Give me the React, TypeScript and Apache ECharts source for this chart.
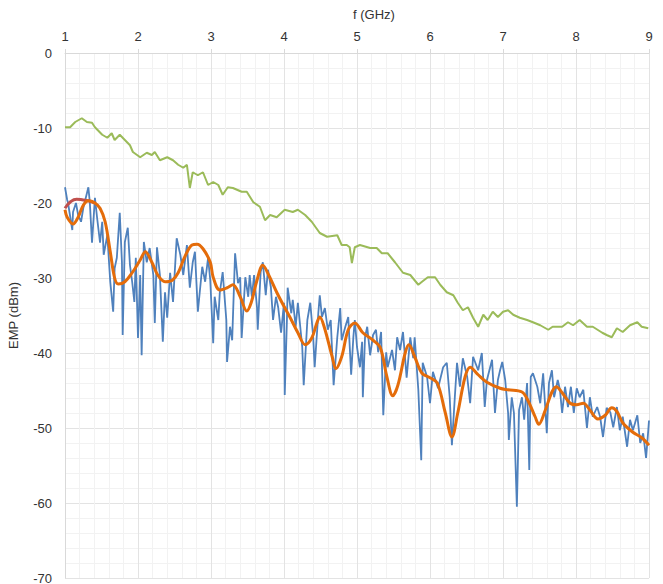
import React, { useEffect, useRef } from "react";
import * as echarts from "echarts";

// Frequency (GHz) / level (dBm) pairs
const greenF = [1.0,1.07,1.14,1.23,1.30,1.37,1.41,1.45,1.51,1.58,1.64,1.68,1.75,1.82,1.89,1.93,2.03,2.12,2.19,2.23,2.30,2.40,2.48,2.55,2.62,2.67,2.71,2.75,2.82,2.89,2.96,3.03,3.10,3.16,3.23,3.30,3.42,3.49,3.58,3.67,3.74,3.81,3.90,4.01,4.12,4.19,4.29,4.38,4.49,4.59,4.73,4.79,4.86,4.90,4.93,4.97,5.04,5.18,5.27,5.34,5.42,5.52,5.63,5.73,5.84,5.89,5.97,6.07,6.14,6.23,6.32,6.38,6.45,6.52,6.59,6.66,6.73,6.79,6.86,6.93,7.00,7.07,7.14,7.23,7.33,7.41,7.51,7.62,7.68,7.81,7.89,7.96,8.05,8.15,8.23,8.36,8.42,8.49,8.56,8.64,8.74,8.84,8.90,8.99];
const greenV = [-9.9,-9.9,-9.2,-8.7,-9.2,-9.3,-9.9,-10.3,-10.9,-11.3,-10.7,-11.6,-10.9,-11.6,-12.3,-13.2,-13.9,-13.3,-13.6,-13.2,-14.3,-13.9,-14.3,-14.9,-15.3,-14.9,-18.0,-15.9,-16.3,-15.9,-17.6,-17.2,-17.6,-18.9,-17.9,-18.0,-18.5,-18.5,-19.9,-20.5,-22.3,-21.6,-21.9,-20.9,-21.2,-20.9,-21.6,-22.5,-24.0,-24.5,-24.3,-25.6,-25.6,-25.9,-28.0,-25.9,-25.6,-26.0,-26.0,-26.7,-26.7,-27.9,-29.3,-29.6,-30.9,-30.5,-29.9,-29.9,-30.9,-31.9,-32.3,-33.3,-34.3,-33.9,-35.3,-36.5,-34.9,-35.6,-34.5,-35.2,-34.5,-34.3,-34.9,-35.3,-35.6,-35.9,-36.3,-36.9,-36.5,-36.5,-35.9,-36.3,-35.6,-36.5,-36.5,-37.3,-37.6,-37.9,-36.7,-37.2,-36.3,-35.9,-36.5,-36.7];

const blueF = [1.00,1.03,1.04,1.10,1.11,1.15,1.18,1.22,1.25,1.32,1.34,1.37,1.41,1.44,1.48,1.51,1.53,1.58,1.62,1.66,1.68,1.71,1.75,1.78,1.79,1.82,1.86,1.89,1.92,1.95,1.97,2.00,2.03,2.05,2.08,2.12,2.16,2.21,2.23,2.26,2.30,2.34,2.37,2.40,2.44,2.48,2.53,2.58,2.62,2.67,2.71,2.75,2.78,2.82,2.88,2.92,2.96,
  2.99,3.03,3.05,3.10,3.12,3.16,3.21,3.22,3.26,3.29,3.33,3.37,3.40,3.42,3.47,3.51,3.53,3.56,3.59,3.63,3.64,3.68,3.71,3.75,3.78,3.82,3.85,3.89,3.92,3.96,4.00,4.01,4.04,4.05,4.10,4.12,4.16,4.19,4.25,4.27,4.32,4.36,4.40,4.42,4.47,4.49,4.52,4.56,4.60,4.64,4.68,4.73,4.77,4.79,4.84,4.88,4.92,4.95,
  4.97,5.00,5.04,5.07,5.08,5.11,5.14,5.18,5.22,5.26,5.29,5.33,5.36,5.40,5.42,5.48,5.52,5.55,5.59,5.63,5.68,5.73,5.77,5.79,5.84,5.88,5.90,5.96,6.00,6.04,6.11,6.18,6.23,6.27,6.30,6.34,6.37,6.41,6.45,6.51,6.55,6.59,6.66,6.71,6.75,6.78,6.85,6.89,6.93,
  6.96,6.99,7.03,7.07,7.08,7.12,7.15,7.19,7.22,7.26,7.29,7.33,7.36,7.38,7.41,7.47,7.51,7.55,7.60,7.63,7.67,7.70,7.75,7.78,7.81,7.85,7.89,7.93,7.97,8.01,8.05,8.10,8.15,8.19,8.23,8.29,8.33,8.37,8.42,8.47,8.51,8.56,8.60,8.64,8.70,8.74,8.78,8.84,8.88,8.92,8.96,8.99,9.00];
const blueV = [-17.9,-19.6,-19.9,-23.6,-21.2,-20.0,-21.6,-22.5,-20.7,-17.9,-19.9,-25.3,-19.3,-22.0,-25.3,-22.5,-26.9,-24.3,-30.5,-34.5,-28.7,-27.3,-21.3,-27.9,-37.6,-25.2,-23.3,-28.3,-30.5,-33.2,-27.3,-38.0,-29.6,-40.3,-25.2,-27.9,-26.0,-29.6,-36.0,-25.9,-29.6,-38.5,-31.9,-35.3,-29.3,-33.2,-24.7,-26.9,-29.6,-25.6,-31.3,-27.9,-26.5,-34.5,-28.5,-30.5,-27.3,
  -30.3,-38.7,-32.5,-35.6,-32.0,-29.2,-35.6,-41.2,-36.5,-38.3,-26.7,-30.7,-29.9,-38.0,-29.9,-32.5,-29.6,-32.5,-29.6,-33.9,-36.9,-29.2,-27.9,-32.3,-28.9,-31.2,-35.6,-32.5,-33.9,-37.3,-33.3,-45.6,-35.6,-31.3,-34.7,-32.9,-36.5,-33.3,-39.2,-44.3,-35.6,-33.3,-37.9,-41.9,-34.7,-32.3,-35.2,-34.0,-36.9,-35.6,-44.3,-37.9,-34.0,-38.3,-36.5,-35.2,-42.9,-37.9,
  -35.6,-39.2,-41.9,-38.5,-45.9,-37.9,-36.5,-40.3,-37.6,-36.9,-39.9,-37.2,-48.3,-39.9,-41.9,-39.6,-42.3,-37.9,-39.6,-37.2,-43.3,-37.9,-40.7,-37.9,-44.9,-54.3,-41.3,-43.2,-46.7,-42.5,-44.7,-41.9,-41.3,-45.9,-52.3,-45.9,-41.3,-44.5,-40.7,-43.2,-46.7,-40.5,-42.3,-40.0,-47.2,-43.6,-40.9,-48.0,-43.6,
  -42.3,-41.2,-43.6,-48.0,-51.6,-45.9,-48.0,-60.5,-47.6,-45.9,-48.9,-44.0,-55.6,-43.2,-42.7,-44.5,-46.7,-42.7,-50.7,-44.0,-42.3,-45.9,-43.6,-44.9,-48.0,-44.5,-47.2,-44.5,-48.0,-44.7,-45.9,-44.9,-50.0,-45.9,-48.5,-47.2,-48.5,-51.2,-47.3,-47.9,-49.9,-47.2,-50.3,-48.5,-52.5,-48.9,-50.3,-48.3,-52.0,-50.7,-54.0,-50.3,-49.0];

const orangeF = [1.00,1.03,1.11,1.18,1.25,1.32,1.41,1.48,1.55,1.62,1.68,1.73,1.82,1.92,2.03,2.10,2.19,2.27,2.37,2.47,2.55,2.64,2.74,2.81,2.89,2.99,3.03,3.12,3.22,3.30,3.40,3.49,3.55,3.63,3.71,3.79,3.90,3.99,4.08,4.19,4.29,4.38,4.45,4.49,4.55,4.66,4.71,4.79,4.88,4.97,5.08,5.22,5.32,5.41,5.49,5.56,5.66,5.71,5.79,5.89,6.00,6.10,6.21,6.30,6.38,6.48,6.55,6.66,6.78,6.96,7.07,7.26,7.34,7.44,7.49,7.58,7.67,7.73,7.81,7.92,8.01,8.10,8.19,8.30,8.40,8.49,8.56,8.64,8.77,8.90,9.00];
const orangeV = [-20.9,-21.9,-22.8,-21.9,-20.3,-19.7,-20.0,-20.7,-22.5,-26.5,-30.0,-30.8,-30.5,-29.3,-27.6,-26.5,-27.9,-29.6,-30.5,-30.3,-29.3,-27.2,-25.6,-25.5,-26.1,-27.9,-29.9,-31.6,-31.3,-30.9,-32.5,-34.4,-33.3,-30.3,-28.3,-29.6,-31.9,-33.6,-35.2,-37.3,-38.9,-38.0,-36.0,-35.2,-36.5,-40.5,-42.1,-40.5,-36.9,-36.0,-37.3,-38.3,-39.3,-43.2,-45.7,-44.3,-40.0,-38.9,-40.5,-42.7,-43.3,-44.0,-48.0,-51.2,-48.0,-43.2,-41.9,-42.9,-43.9,-44.7,-44.9,-45.2,-46.3,-48.5,-49.5,-47.6,-45.2,-44.5,-45.3,-46.7,-46.9,-46.7,-47.6,-48.8,-48.3,-47.3,-47.8,-49.3,-50.5,-51.3,-52.3];

const redF = [1.00,1.08,1.16,1.25,1.32,1.41];
const redV = [-20.7,-19.8,-19.5,-19.6,-19.7,-20.0];

const xTicks = [1, 2, 3, 4, 5, 6, 7, 8, 9];
const yTicks = [0, -10, -20, -30, -40, -50, -60, -70];

const zip = (f: number[], v: number[]) => f.map((x, i) => [x, v[i]]);

export default function App() {
  const ref = useRef<HTMLDivElement>(null);
  useEffect(() => {
    document.body.style.margin = "0";
    const chart = echarts.init(ref.current!, undefined, { renderer: "svg" });
    const font = "Liberation Sans, Arial, sans-serif";
    chart.setOption({
      animation: false,
      backgroundColor: "#ffffff",
      textStyle: { fontFamily: font },
      grid: { left: 65, right: 14, top: 53, bottom: 6, containLabel: false, outerBoundsMode: "none" },
      xAxis: {
        type: "value",
        position: "top",
        min: xTicks[0],
        max: xTicks[xTicks.length - 1],
        interval: 1,
        name: "f (GHz)",
        nameLocation: "middle",
        nameGap: 32,
        nameTextStyle: { color: "#333", fontSize: 13, fontFamily: font, padding: [0, 0, 0, 34] },
        axisLine: { show: true, lineStyle: { color: "#d9d9d9", width: 1 } },
        axisTick: { show: true, length: 4, lineStyle: { color: "#d9d9d9" } },
        axisLabel: { color: "#333", fontSize: 13, margin: 10, fontFamily: font },
        splitLine: { show: true, lineStyle: { color: "#e3e3e3", width: 1 } },
        minorTick: { show: false, splitNumber: 5 },
        minorSplitLine: { show: true, lineStyle: { color: "#f2f2f2", width: 1 } },
      },
      yAxis: {
        type: "value",
        min: yTicks[yTicks.length - 1],
        max: yTicks[0],
        interval: 10,
        name: "EMP (dBm)",
        nameLocation: "middle",
        nameGap: 45,
        nameRotate: 90,
        nameTextStyle: { color: "#333", fontSize: 13, fontFamily: font },
        axisLine: { show: true, lineStyle: { color: "#d9d9d9", width: 1 } },
        axisTick: { show: false },
        axisLabel: { color: "#333", fontSize: 13, margin: 13, fontFamily: font },
        splitLine: { show: true, lineStyle: { color: "#e3e3e3", width: 1 } },
        minorTick: { show: false, splitNumber: 5 },
        minorSplitLine: { show: true, lineStyle: { color: "#f2f2f2", width: 1 } },
      },
      series: [
        {
          type: "line",
          name: "green",
          data: zip(greenF, greenV),
          showSymbol: false,
          lineStyle: { color: "#9bbb59", width: 2 },
          z: 2,
        },
        {
          type: "line",
          name: "blue",
          data: zip(blueF, blueV),
          showSymbol: false,
          lineStyle: { color: "#4f81bd", width: 1.8 },
          z: 3,
        },
        {
          type: "line",
          name: "red",
          data: zip(redF, redV),
          smooth: 0.5,
          showSymbol: false,
          lineStyle: { color: "#c0504d", width: 3 },
          z: 4,
        },
        {
          type: "line",
          name: "orange",
          data: zip(orangeF, orangeV),
          smooth: 0.35,
          showSymbol: false,
          lineStyle: { color: "#e46c0a", width: 3 },
          z: 5,
        },
      ],
    });
    return () => chart.dispose();
  }, []);
  return <div ref={ref} style={{ width: 663, height: 584 }} />;
}
